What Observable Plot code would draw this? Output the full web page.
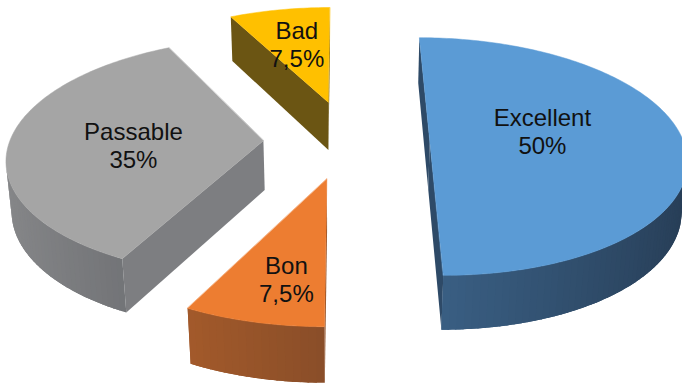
<!DOCTYPE html>
<html>
<head>
<meta charset="utf-8">
<script src="https://cdn.jsdelivr.net/npm/d3@7"></script>
<script src="https://cdn.jsdelivr.net/npm/@observablehq/plot@0.6"></script>
<style>
  html, body { margin: 0; padding: 0; background: #fff; }
  #chart { width: 682px; height: 388px; overflow: hidden; }
</style>
</head>
<body>
<div id="chart"></div>
<script>
// ---- data ----
const categories = ["Excellent", "Bon", "Passable", "Bad"];
const values = [50, 7.5, 35, 7.5];
const palette = ["#5B9BD5", "#ED7D31", "#A5A5A5", "#FFC000"];

// ---- 3D view / layout settings ----
const W = 682, H = 388;
const alpha = 29.1 * Math.PI / 180;
const sA = Math.sin(alpha), cA = Math.cos(alpha);
const dist = 6.66, focal = 1661, X0 = 341, Y0 = 189.6;
const thick = 0.223;
const explodeDist = [0.348, 0.319, 0.308, 0.350];
const explodeAngle = [90, 190, 270, 351];
const labelR = [0.46, 0.72, 0.51, 0.6];
const labelAngle = [80, 190.6, 266, 346.2];
const radialShade = [0.40, 0.60, 0.73, 0.38];
const drawOrder = [3, 0, 2, 1];
const rad = a => a * Math.PI / 180;

function proj(X, Y, Z) {
  const depth = dist - Y * sA - Z * cA;
  return [X / depth, (Y * cA - Z * sA) / depth];
}
const cam = [0, dist * sA, dist * cA];
function visible(n, q) {
  return n[0] * (cam[0] - q[0]) + n[1] * (cam[1] - q[1]) + n[2] * (cam[2] - q[2]) > 0;
}
function shade(c, m) {
  const base = d3.rgb(c), dark = d3.rgb("#10141e");
  return d3.rgb(base.r * m + dark.r * (1 - m), base.g * m + dark.g * (1 - m), base.b * m + dark.b * (1 - m)).formatHex();
}

const total = d3.sum(values);
let acc = 0;
const slices = values.map((v, i) => {
  const a0 = acc / total * 360; acc += v;
  const a1 = acc / total * 360;
  const e = explodeDist[i], ea = rad(explodeAngle[i]);
  return { i, a0, a1, ox: e * Math.sin(ea), oz: -e * Math.cos(ea) };
});

const rows = [];
let pid = 0;
function poly(pts, fill, stroke) {
  const k = pid++;
  for (const [X, Y, Z] of pts) {
    const [u, v] = proj(X, Y, Z);
    rows.push({ id: k, u, v, fill, stroke });
  }
}

for (const si of drawOrder) {
  const s = slices[si];
  const col = palette[si];
  const rim = (a, Y) => [s.ox + Math.sin(rad(a)), Y, s.oz - Math.cos(rad(a))];
  const c0 = [s.ox, 0, s.oz], c1 = [s.ox, thick, s.oz];
  // radial faces
  const faces = [
    { a: s.a0, n: [-Math.cos(rad(s.a0)), 0, -Math.sin(rad(s.a0))] },
    { a: s.a1, n: [Math.cos(rad(s.a1)), 0, Math.sin(rad(s.a1))] }
  ];
  for (const f of faces) {
    const r1 = rim(f.a, thick), r0 = rim(f.a, 0);
    const q = [(c0[0] + r0[0]) / 2, thick / 2, (c0[2] + r0[2]) / 2];
    if (visible(f.n, q)) poly([c1, r1, r0, c0], shade(col, radialShade[si]), "none");
  }
  // outer curved side, in thin overlapping strips (lighting gradient)
  const step = 1.5;
  const n = Math.max(2, Math.ceil((s.a1 - s.a0) / step));
  const da = (s.a1 - s.a0) / n;
  for (let k = 0; k < n; k++) {
    const a = s.a0 + da * k;
    const b = Math.min(s.a1, a + da * 2.2);
    const m = a + da / 2;
    const nrm = [Math.sin(rad(m)), 0, -Math.cos(rad(m))];
    const q = rim(m, thick / 2);
    if (!visible(nrm, q)) continue;
    const sh = 0.55 - 0.25 * Math.sin(rad(m));
    const pts = [];
    for (let t = 0; t <= 4; t++) pts.push(rim(a + (b - a) * t / 4, thick));
    for (let t = 4; t >= 0; t--) pts.push(rim(a + (b - a) * t / 4, 0));
    poly(pts, shade(col, sh), "none");
  }
  // top face
  const top = [c1];
  const nt = Math.max(4, Math.ceil((s.a1 - s.a0) / 1));
  for (let k = 0; k <= nt; k++) top.push(rim(s.a0 + (s.a1 - s.a0) * k / nt, thick));
  poly(top, col, col);
}

const fmt = v => String(v).replace(".", ",") + "%";
const labels = slices.map((s, i) => {
  const a = rad(labelAngle[i]);
  const [u, v] = proj(s.ox + labelR[i] * Math.sin(a), thick, s.oz - labelR[i] * Math.cos(a));
  return { u, v, text: categories[i] + "\n" + fmt(values[i]) };
});

const chart = Plot.plot({
  width: W, height: H, margin: 0,
  x: { domain: [-X0 / focal, (W - X0) / focal], range: [0, W], axis: null },
  y: { domain: [Y0 / focal, (Y0 - H) / focal], range: [0, H], axis: null },
  color: { type: "identity" },
  style: { background: "#fff" },
  marks: [
    Plot.line(rows, { x: "u", y: "v", z: "id", fill: "fill", stroke: "stroke", strokeWidth: 0.5, curve: "linear-closed" }),
    Plot.text(labels, {
      x: "u", y: "v", text: "text", fontSize: 24, lineHeight: 1.17,
      fontFamily: "'Liberation Sans', Arial, sans-serif", fill: "#111", textAnchor: "middle", lineAnchor: "middle"
    })
  ]
});
document.getElementById("chart").appendChild(chart);
</script>
</body>
</html>
